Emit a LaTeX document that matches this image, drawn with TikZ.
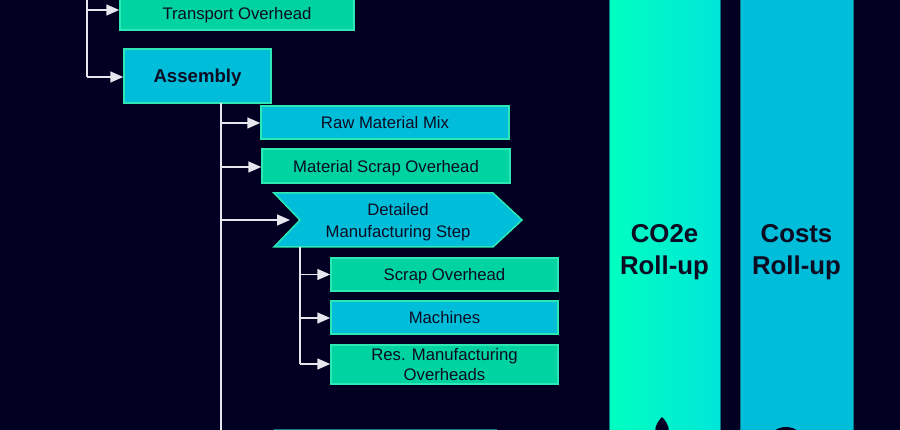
\documentclass[tikz,border=0pt]{standalone}
\usepackage{fontspec}
\setmainfont{Liberation Sans}
\usetikzlibrary{arrows.meta}
\definecolor{bgnavy}{HTML}{020022}
\definecolor{boxgreen}{HTML}{00D3A2}
\definecolor{boxcyan}{HTML}{00BDDA}
\definecolor{edgegreen}{HTML}{2DE8B2}
\definecolor{txtdark}{HTML}{0B0B22}
\definecolor{barleft}{HTML}{00FFC0}
\definecolor{barright}{HTML}{00E6D8}
\definecolor{baredge}{HTML}{0B7A86}
\definecolor{linewhite}{HTML}{E6E6EE}
\tikzset{
  boxbase/.style={draw=edgegreen, line width=1.5pt, text=txtdark, inner sep=0pt,
    font=\fontsize{16.7}{19.5}\selectfont, align=center, text depth=0pt},
  gbox/.style={boxbase, fill=boxgreen},
  cbox/.style={boxbase, fill=boxcyan},
  conn/.style={draw=linewhite, line width=1.5pt, -{Triangle[length=13pt,width=11pt]}},
  trunk/.style={draw=linewhite, line width=1.5pt},
  bartext/.style={text=txtdark, font=\fontsize{25.8}{31.5}\selectfont\bfseries, align=center}
}
\begin{document}
\begin{tikzpicture}[x=1pt,y=-1pt]
\useasboundingbox (0,0) rectangle (900,430);
\fill[bgnavy] (0,0) rectangle (900,430);

% roll-up bars
\shade[left color=barleft, right color=barright] (609,-5) rectangle (720,435);
\draw[baredge, line width=0.8pt] (609,-5) rectangle (720,435);
\fill[boxcyan] (740,-5) rectangle (853,435);
\draw[baredge, line width=0.8pt] (740,-5) rectangle (853,435);
\node[bartext] (co2) at (664.5,252) {CO2e\\Roll-up};
\node[bartext] (costs) at (796.5,252) {Costs\\Roll-up};
% partial dark shapes at bottom of bars
\fill[bgnavy] (662,417) .. controls (665,420) and (669,425) .. (669,432) -- (655,432) .. controls (655,425) and (659,420) .. (662,417);
\fill[bgnavy] (786,443) ellipse [x radius=18, y radius=16];

% boxes
\node[gbox, minimum width=234pt, minimum height=34pt] (transport) at (237,13) {Transport Overhead};
\node[cbox, minimum width=147pt, minimum height=54pt, font=\fontsize{18.6}{22}\selectfont\bfseries] (assembly) at (197.5,76) {Assembly};
\node[cbox, minimum width=248pt, minimum height=33pt] (raw) at (385,122.5) {Raw Material Mix};
\node[gbox, minimum width=248pt, minimum height=34pt] (mscrap) at (386,166) {Material Scrap Overhead};
\draw[draw=edgegreen, line width=1.5pt, fill=boxcyan] (274,193) -- (493,193) -- (522,220) -- (493,247) -- (274,247) -- (300,220) -- cycle;
\node[text=txtdark, font=\fontsize{16.7}{22}\selectfont, align=center] (dms) at (398,222) {Detailed\\Manufacturing Step};
\coordinate (dmsin) at (290,220);
\coordinate (dmsbot) at (300,247);
\node[gbox, minimum width=227pt, minimum height=33pt] (scrap) at (444.5,274.5) {Scrap Overhead};
\node[cbox, minimum width=227pt, minimum height=33pt] (machines) at (444.5,317.5) {Machines};
\node[gbox, minimum width=227pt, minimum height=39pt, font=\fontsize{16.7}{19.5}\selectfont] (resman) at (444.5,364.5) {Res. Manufacturing\\Overheads};
% partial box at bottom
\draw[draw=baredge, line width=1.5pt, fill=bgnavy] (275,429.5) rectangle (496,445);

% connectors
\coordinate (topstem) at (87,-5);
\draw[trunk] (topstem) -- (87,77);
\draw[conn] (87,10) -- (transport.west |- 0,10);
\draw[conn] (87,77) -- (assembly.west |- 0,77);
\coordinate (asmstem) at (221,103);
\coordinate (asmend) at (221,435);
\draw[trunk] (asmstem) -- (asmend);
\draw[conn] (221,123) -- (raw.west |- 0,123);
\draw[conn] (221,167) -- (mscrap.west |- 0,167);
\draw[conn] (221,220) -- (dmsin);
\draw[trunk] (dmsbot) -- (300,364);
\draw[conn] (300,274.5) -- (scrap.west);
\draw[conn] (300,318) -- (machines.west |- 0,318);
\draw[conn] (300,364) -- (resman.west |- 0,364);
\end{tikzpicture}
\end{document}
